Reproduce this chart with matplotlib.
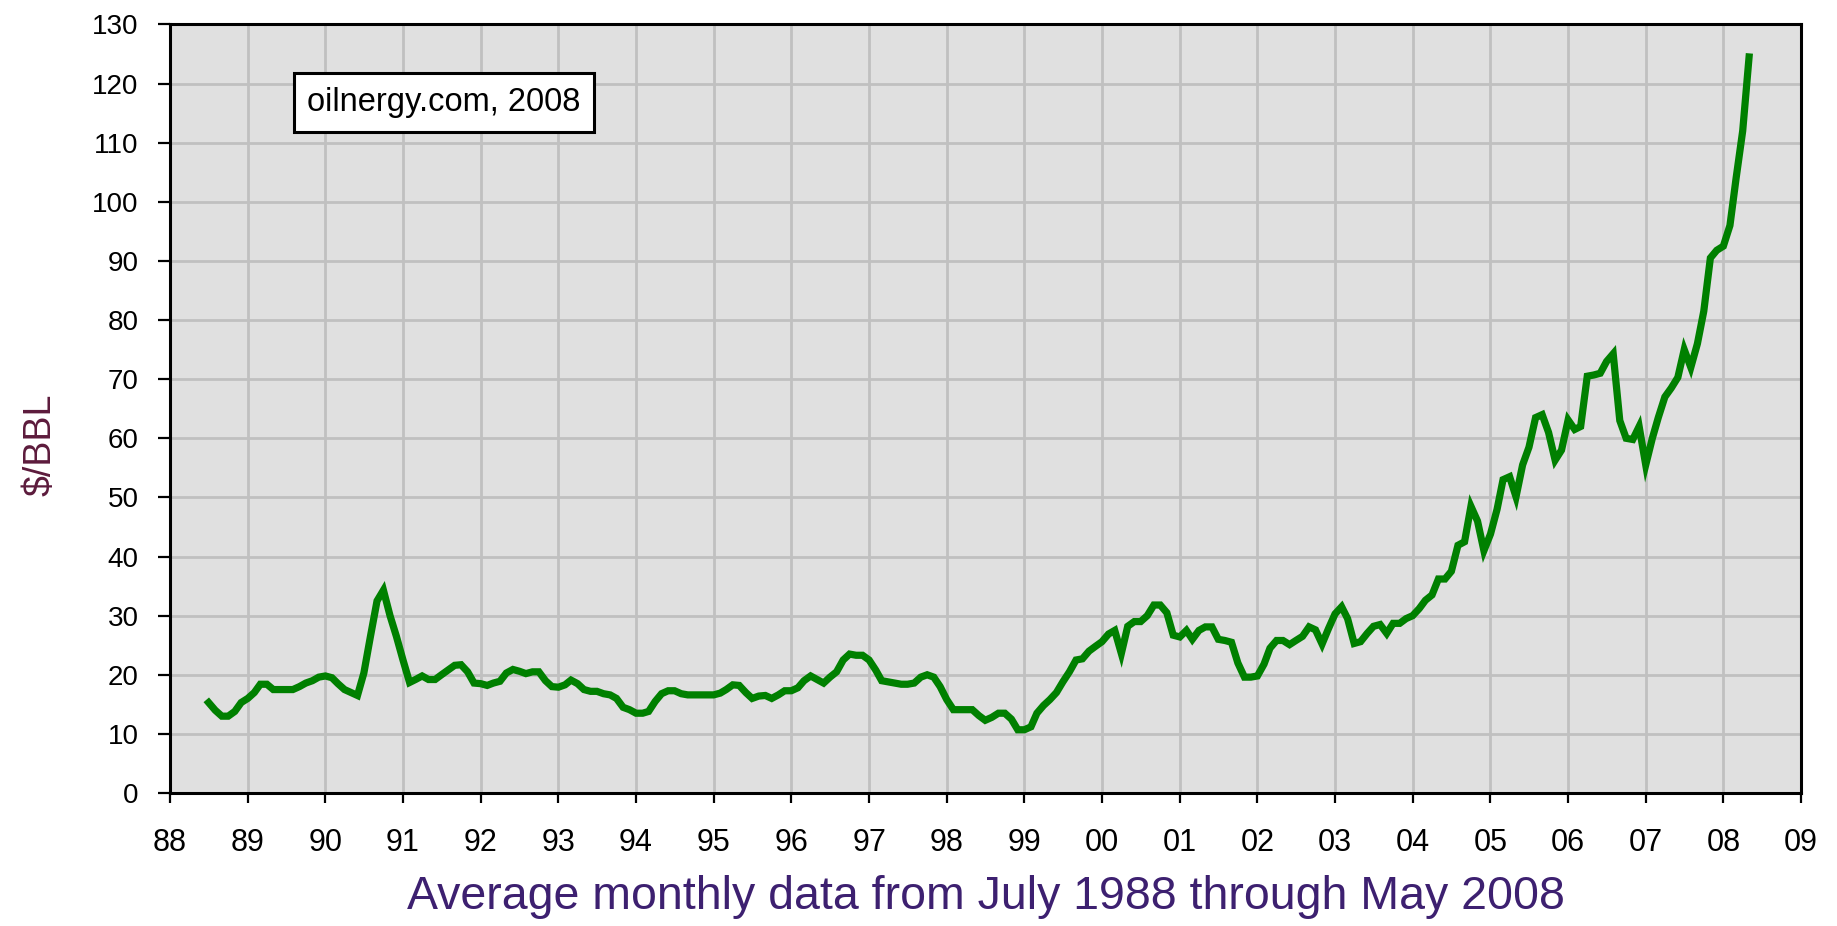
import numpy as np
import pandas as pd
import matplotlib
matplotlib.use('Agg')
import matplotlib.pyplot as plt
import matplotlib.dates as mdates

plt.rcParams['font.family'] = ['Liberation Sans', 'DejaVu Sans']

# average monthly price, $/BBL, July 1988 .. May 2008
price = [
    15.3, 14.0, 13.0, 13.0, 13.8, 15.3,                      # 1988 Jul-Dec
    16.0, 17.0, 18.4, 18.4, 17.5, 17.5, 17.5, 17.5, 18.0, 18.6, 19.0, 19.6,  # 1989
    19.8, 19.5, 18.5, 17.5, 17.0, 16.5, 20.3, 26.5, 32.5, 34.3, 30.0, 26.5,  # 1990
    22.5, 18.7, 19.2, 19.8, 19.2, 19.2, 20.0, 20.8, 21.6, 21.7, 20.5, 18.6,  # 1991
    18.5, 18.2, 18.6, 18.9, 20.3, 20.9, 20.6, 20.2, 20.5, 20.5, 19.0, 18.0,  # 1992
    17.9, 18.3, 19.1, 18.5, 17.5, 17.2, 17.2, 16.8, 16.6, 16.0, 14.5, 14.1,  # 1993
    13.5, 13.5, 13.8, 15.5, 16.8, 17.3, 17.3, 16.8, 16.6, 16.6, 16.6, 16.6,  # 1994
    16.6, 16.9, 17.5, 18.3, 18.2, 17.0, 16.0, 16.4, 16.5, 16.0, 16.6, 17.3,  # 1995
    17.3, 17.8, 19.0, 19.8, 19.2, 18.6, 19.6, 20.5, 22.5, 23.5, 23.3, 23.3,  # 1996
    22.5, 20.8, 19.0, 18.8, 18.6, 18.4, 18.4, 18.6, 19.6, 20.0, 19.6, 18.0,  # 1997
    15.8, 14.1, 14.1, 14.1, 14.1, 13.1, 12.3, 12.8, 13.5, 13.5, 12.5, 10.7,  # 1998
    10.7, 11.2, 13.5, 14.8, 15.8, 17.0, 18.8, 20.5, 22.5, 22.7, 24.0, 24.8,  # 1999
    25.6, 26.9, 27.5, 23.6, 28.2, 29.0, 29.0, 30.0, 31.8, 31.8, 30.5, 26.7,  # 2000
    26.4, 27.5, 26.0, 27.5, 28.1, 28.1, 26.0, 25.8, 25.5, 22.0, 19.6, 19.6,  # 2001
    19.8, 21.8, 24.5, 25.8, 25.8, 25.1, 25.8, 26.5, 28.1, 27.6, 25.2, 27.8,  # 2002
    30.3, 31.5, 29.5, 25.3, 25.6, 27.0, 28.2, 28.5, 27.0, 28.7, 28.7, 29.5,  # 2003
    30.0, 31.2, 32.6, 33.5, 36.2, 36.2, 37.5, 41.9, 42.5, 48.5, 46.0, 41.0,  # 2004
    43.8, 48.0, 53.0, 53.5, 50.1, 55.5, 58.5, 63.5, 64.0, 61.0, 56.3, 58.0,  # 2005
    63.1, 61.5, 62.0, 70.5, 70.7, 71.0, 73.0, 74.3, 63.0, 60.0, 59.8, 62.0,  # 2006
    55.5, 60.0, 63.5, 67.0, 68.5, 70.3, 75.0, 72.0, 76.0, 81.5, 90.5, 91.8,  # 2007
    92.5, 96.0, 104.0, 112.0, 124.5,                                           # 2008 Jan-May
]
months = pd.date_range('1988-07-01', periods=len(price), freq='MS')

tick_years = list(range(1988, 2010))
tick_labels = ['%02d' % (y % 100) for y in tick_years]
y_ticks = list(range(0, 131, 10))

fig = plt.figure(figsize=(18.37, 9.26), dpi=100)
ax = fig.add_axes([0.0925, 0.1436, 0.888, 0.830])
ax.set_facecolor('#e0e0e0')

ax.plot(months, price, color='#008000', lw=5.2, solid_joinstyle='miter', zorder=3)

ax.set_xlim(pd.Timestamp('1988-01-01'), pd.Timestamp('2009-01-01'))
ax.set_ylim(0, 130)
ax.set_xticks([pd.Timestamp('%d-01-01' % y) for y in tick_years])
ax.set_xticklabels(tick_labels, fontsize=22)
ax.set_yticks(y_ticks)
ax.set_yticklabels([str(v) for v in y_ticks], fontsize=20)

ax.grid(True, color='#c0c0c0', lw=2, zorder=1)
ax.set_axisbelow(True)
for s in ax.spines.values():
    s.set_linewidth(2.2)
    s.set_color('black')
ax.tick_params(axis='y', length=8.5, width=1.6, pad=14)
ax.tick_params(axis='x', length=7.5, width=1.6, pad=18)

ax.set_xlabel('Average monthly data from July 1988 through May 2008',
              fontsize=33.5, color='#3d2070', labelpad=12)
fig.text(0.022, 0.52, '$/BBL', rotation=90, fontsize=27, color='#5c1b3c',
         ha='center', va='center')

ax.text(0.168, 0.8985, 'oilnergy.com, 2008', transform=ax.transAxes,
        fontsize=23.5, ha='center', va='center', zorder=5,
        bbox=dict(boxstyle='square,pad=0.42', fc='white', ec='black', lw=2.2))

fig.savefig('out.png', dpi=100)
